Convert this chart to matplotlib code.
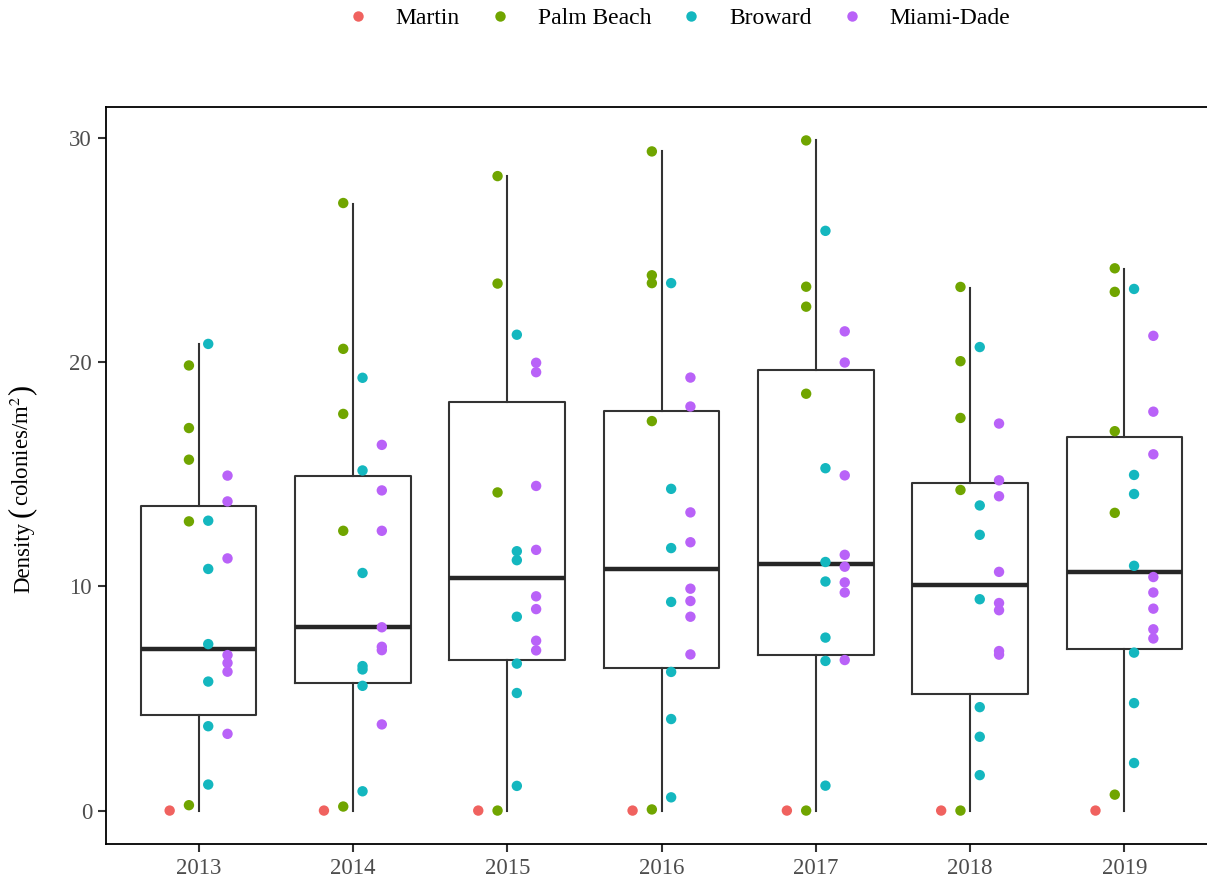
import numpy as np
import matplotlib
matplotlib.use('Agg')
from matplotlib import pyplot as plt
from matplotlib.lines import Line2D

plt.rcParams['font.family'] = ['Liberation Serif', 'DejaVu Serif']
plt.rcParams['mathtext.fontset'] = 'stix'

years = ['2013', '2014', '2015', '2016', '2017', '2018', '2019']
counties = ['Martin', 'Palm Beach', 'Broward', 'Miami-Dade']
colors = ['#F0625F', '#70A500', '#14B7BF', '#B962F8']

# colony density per site
martin = [[0.0], [0.0], [0.0], [0.0], [0.0], [0.0], [0.0]]
palm_beach = [
    [19.84, 17.05, 15.64, 12.89, 0.24],
    [27.08, 20.58, 17.68, 12.47, 0.18],
    [28.28, 23.49, 14.18, 0.0],
    [29.38, 23.86, 23.51, 17.36, 0.05],
    [29.87, 23.35, 22.46, 18.58, 0.0],
    [23.34, 20.03, 17.50, 14.29, 0.0],
    [24.17, 23.12, 16.91, 13.27, 0.71],
]
broward = [
    [20.8, 12.92, 10.77, 7.42, 5.75, 3.76, 1.16],
    [19.29, 15.16, 10.59, 6.44, 6.29, 5.56, 0.86],
    [21.21, 11.56, 11.16, 8.64, 6.55, 5.24, 1.10],
    [23.51, 14.34, 11.70, 9.30, 6.18, 4.08, 0.59],
    [25.84, 15.26, 11.08, 10.21, 7.71, 6.67, 1.11],
    [20.66, 13.60, 12.29, 9.42, 4.61, 3.29, 1.58],
    [23.25, 14.96, 14.11, 10.91, 7.04, 4.79, 2.12],
]
miami_dade = [
    [14.93, 13.78, 11.24, 6.93, 6.58, 6.19, 3.42],
    [16.30, 14.27, 12.47, 8.17, 7.30, 7.15, 3.84],
    [19.96, 19.54, 14.47, 11.62, 9.55, 8.98, 7.57, 7.14],
    [19.30, 18.01, 13.29, 11.96, 9.89, 9.34, 8.64, 6.96],
    [21.36, 19.97, 14.94, 11.40, 10.87, 10.17, 9.72, 6.71],
    [17.25, 14.72, 14.01, 10.64, 9.25, 8.93, 7.11, 6.95],
    [21.16, 17.78, 15.88, 10.41, 9.72, 9.00, 8.08, 7.67],
]
series = [martin, palm_beach, broward, miami_dade]

# box statistics per year
whis_lo = [0, 0, 0, 0, 0, 0, 0]
q1 = [4.24, 5.70, 6.72, 6.36, 6.95, 5.20, 7.22]
med = [7.20, 8.16, 10.37, 10.77, 10.97, 10.04, 10.64]
q3 = [13.56, 14.92, 18.23, 17.83, 19.63, 14.60, 16.64]
whis_hi = [20.8, 27.04, 28.28, 29.38, 29.87, 23.31, 24.16]

fig = plt.figure(figsize=(12.07, 8.84), dpi=100)
ax = fig.add_axes([106/1207, 1 - 844/884, 1111/1207, 737/884])

pos = np.arange(len(years))
stats = [dict(whislo=whis_lo[i], q1=q1[i], med=med[i], q3=q3[i], whishi=whis_hi[i])
         for i in range(len(years))]
ax.bxp(stats, positions=pos, widths=0.75, showfliers=False, showcaps=False,
       boxprops=dict(color='#333333', lw=1.5),
       whiskerprops=dict(color='#333333', lw=1.5),
       medianprops=dict(color='#262626', lw=3.2), manage_ticks=False)

offsets = [-0.1875, -0.0625, 0.0625, 0.1875]
for k, data in enumerate(series):
    for i, vals in enumerate(data):
        ax.scatter(np.full(len(vals), pos[i] + offsets[k]), vals, s=56,
                   color=colors[k], edgecolors='none', zorder=3)

ax.set_xlim(-0.6, 6.6)
ax.set_ylim(-1.49, 31.36)
ax.set_xticks(pos)
ax.set_xticklabels(years)
ax.set_yticks([0, 10, 20, 30])
ax.tick_params(axis='both', length=6, width=1.5, color='#333333',
               labelsize=16.5, labelcolor='#4D4D4D', pad=4)
for sp in ax.spines.values():
    sp.set_linewidth(1.3)
    sp.set_color('black')

# y label built from pieces (baseline aligned) so the brackets can be larger
pieces = [('Density', 16.5, 0), ('(', 22, 5), ('colonies/m$^{2}$', 16.5, 1), (')', 22, 0)]
base_x = 29 / 1207
cur_y = 593  # pixels from top where the label starts
fig.canvas.draw()
r = fig.canvas.get_renderer()
for txt, fs, gap in pieces:
    cur_y -= gap
    t = fig.text(base_x, 1 - cur_y / 884, txt, rotation=90, fontsize=fs,
                 rotation_mode='anchor', ha='left', va='baseline')
    bb = t.get_window_extent(renderer=r)
    cur_y = 884 - bb.y1

handles = [Line2D([], [], ls='none', marker='o', ms=7.5, mec='none', color=c) for c in colors]
fig.legend(handles, counties, loc='center', bbox_to_anchor=(678/1207, 1 - 18/884),
           ncol=4, frameon=False, fontsize=17, handlelength=1.0,
           handletextpad=1.1, columnspacing=1.2)

fig.savefig('out.png', dpi=100)
